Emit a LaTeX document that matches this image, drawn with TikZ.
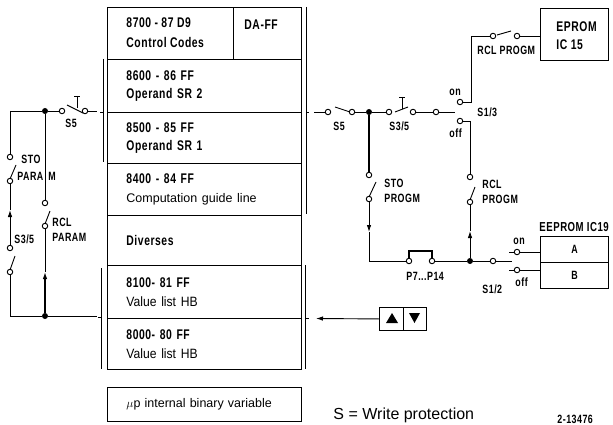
\documentclass[tikz,border=0pt]{standalone}
\usepackage{fontspec}
\setmainfont{Liberation Sans}
\newfontfamily\dinfont[FakeStretch=0.74,LetterSpace=4]{Liberation Sans Bold}
\newfontfamily\helnfont[FakeStretch=0.9]{Liberation Sans}
\usepackage{amsmath}
\usetikzlibrary{arrows.meta, positioning, calc}
\newcommand{\din}{\dinfont\fontsize{14}{18.5}\selectfont}
\newcommand{\dinl}{\dinfont\fontsize{12}{14}\selectfont}
\newcommand{\hel}{\rmfamily\fontsize{12.5}{18.5}\selectfont}
\newcommand{\heln}{\helnfont\fontsize{13.5}{18.5}\selectfont}

\begin{document}
\begin{tikzpicture}[x=1pt, y=-1pt, line width=0.9pt,
		cell/.style={draw, rectangle, anchor=north west, inner sep=0pt, minimum width=194pt, text width=156pt, align=left, font=\din},
		lbl/.style={anchor=west, inner sep=0pt, font=\dinl},
		tbl/.style={anchor=west, inner sep=0pt, font=\din},
		ctc/.style={circle, draw, fill=white, inner sep=0pt, minimum size=5.5pt},
		jdot/.style={circle, fill=black, inner sep=0pt, minimum size=6pt},
		blade/.style={line width=0.9pt},
		heavy/.style={line width=1.2pt},
		ahead/.style={-{Latex[length=7pt,width=4.5pt]}}]
	\useasboundingbox (0,0) rectangle (613,425);
	\node[draw, rectangle, anchor=north west, inner sep=0pt, minimum width=126pt, minimum height=52pt] (rctl) at (107,7) {};
	\node[draw, rectangle, anchor=north west, inner sep=0pt, minimum width=68pt, minimum height=52pt] (rda) at (233,7) {};
	\node[tbl] (tctla) at (126,23) {8700 - 87 D9};
	\node[tbl] (tctlb) at (126,42) {Control Codes};
	\node[tbl] (tda) at (244,25) {DA-FF};
	\node[cell, minimum height=53pt] (r86) at (107,59) {8600 - 86 FF\\Operand SR 2};
	\node[cell, minimum height=51pt] (r85) at (107,112) {8500 - 85 FF\\Operand SR 1};
	\node[cell, minimum height=52pt] (r84) at (107,163) {8400 - 84 FF\\{\hel Computation guide line}};
	\node[cell, minimum height=50pt] (rdiv) at (107,215) {Diverses};
	\node[cell, minimum height=53pt] (r81) at (107,265) {8100- 81 FF\\{\heln Value list HB}};
	\node[cell, minimum height=51pt] (r80) at (107,318) {8000- 80 FF\\{\heln Value list HB}};
	\node[cell, minimum height=34pt, font=\hel] (rmup) at (107,387) {$\mu$p internal binary variable};

	\draw (103,59) -- (103,162);
	\draw (103,112) -- (100,112);
	\draw (101,268) -- (101,369);
	\draw (101,317) -- (98,317);
	\draw (306,7) -- (306,214);
	\draw (306,112) -- (309,112);
	\draw (305,265) -- (305,369);
	\draw (305,318) -- (309,318);

	\node[jdot] (jla) at (45,111) {};
	\node[jdot] (jlb) at (45,316) {};
	\node[ctc] (s5la) at (62,111) {};
	\node[ctc] (s5lb) at (85,111) {};
	\node[ctc] (stoa) at (10,157) {};
	\node[ctc] (stob) at (10,181) {};
	\node[ctc] (s35a) at (10,248) {};
	\node[ctc] (s35b) at (10,272) {};
	\node[ctc] (rcla) at (45,203) {};
	\node[ctc] (rclb) at (45,226) {};
	\coordinate (cla) at (10,111);
	\coordinate (clb) at (10,316);
	\coordinate (fla) at (97,111);
	\coordinate (flb) at (97,316);
	\coordinate (ala) at (10,210);
	\coordinate (alb) at (45,272);
	\draw (cla) -- (jla) -- (s5la);
	\draw (s5lb) -- (fla);
	\draw (cla) -- (stoa);
	\draw (stob) -- (ala);
	\draw[ahead] (s35a) -- (ala);
	\draw (s35b) -- (clb) -- (jlb);
	\draw (jlb) -- (flb);
	\draw (jla) -- (rcla);
	\draw (rclb) -- (alb);
	\draw[heavy, ahead] (jlb) -- (alb);
	\draw[blade] (67,105) -- (83,113);
	\draw (77,96) -- (77,108);
	\draw (74,96) -- (80,96);
	\draw[blade] (10,179) -- (16,165);
	\draw[blade] (10,270) -- (15,256);
	\draw[blade] (45,224) -- (50,211);
	\node[lbl] (tstol) at (21,159) {STO};
	\node[lbl] (tparl) at (17,176) {PARA};
	\node[lbl] (tml) at (48,176) {M};
	\node[lbl] (trcll) at (52,222) {RCL};
	\node[lbl] (tparr) at (52,237) {PARAM};
	\node[lbl] (ts35l) at (14,239) {S3/5};
	\node[lbl] (ts5l) at (65,123) {S5};

	\node[ctc] (s5ra) at (328,112) {};
	\node[ctc] (s5rb) at (352,112) {};
	\node[jdot] (jra) at (369,112) {};
	\node[ctc] (s35ra) at (389,112) {};
	\node[ctc] (s35rb) at (413,112) {};
	\node[ctc] (s13c) at (436,112) {};
	\node[ctc] (s13on) at (460,102) {};
	\node[ctc] (s13off) at (460,121) {};
	\node[ctc] (rpa) at (493,36) {};
	\node[ctc] (rpb) at (517,36) {};
	\node[draw, rectangle, anchor=north west, inner sep=0pt, minimum width=68pt, minimum height=52pt] (eprom) at (540,8) {};
	\node[ctc] (stpa) at (369,175) {};
	\node[ctc] (stpb) at (369,199) {};
	\node[ctc] (rcpa) at (470,177) {};
	\node[ctc] (rcpb) at (470,202) {};
	\node[ctc] (p7) at (409,261) {};
	\node[ctc] (p14) at (432,261) {};
	\node[jdot] (jrb) at (470,261) {};
	\node[ctc] (s12c) at (493,261) {};
	\node[ctc] (s12on) at (517,252) {};
	\node[ctc] (s12off) at (517,270) {};
	\node[draw, rectangle, anchor=north west, inner sep=0pt, minimum width=68pt, minimum height=26pt, font=\dinl] (eea) at (540,236) {A};
	\node[draw, rectangle, anchor=north west, inner sep=0pt, minimum width=68pt, minimum height=26pt, font=\dinl] (eeb) at (540,262) {B};
	\node[draw, rectangle, anchor=north west, inner sep=0pt, minimum width=24pt, minimum height=23pt] (kup) at (379,307) {};
	\node[draw, rectangle, anchor=north west, inner sep=0pt, minimum width=23pt, minimum height=23pt] (kdn) at (403,307) {};

	\coordinate (fra) at (314,112);
	\coordinate (frb) at (455,112);
	\coordinate (fon) at (457,102);
	\coordinate (foff) at (457,121);
	\coordinate (con) at (471,102);
	\coordinate (cup) at (471,36);
	\coordinate (coff) at (470,121);
	\coordinate (cst) at (369,261);
	\coordinate (ast) at (369,232);
	\coordinate (arc) at (470,231);
	\coordinate (bra) at (409,251);
	\coordinate (brb) at (432,251);
	\coordinate (frc) at (512,261);
	\coordinate (fsa) at (509,252);
	\coordinate (fsb) at (509,270);
	\coordinate (akey) at (316,318.5);
	\draw (fra) -- (s5ra);
	\draw (s5rb) -- (jra) -- (s35ra);
	\draw (s35rb) -- (s13c) -- (frb);
	\draw (fon) -- (s13on) -- (con) -- (cup) -- (rpa);
	\draw (rpb) -- (eprom.west |- rpb);
	\draw (foff) -- (s13off) -- (coff) -- (rcpa);
	\draw[heavy] (jra) -- (stpa);
	\draw[ahead] (stpb) -- (ast);
	\draw (ast) -- (cst) -- (p7);
	\draw[heavy] (p7) -- (bra) -- (brb) -- (p14);
	\draw (p14) -- (jrb) -- (s12c) -- (frc);
	\draw[ahead] (jrb) -- (arc);
	\draw (rcpb) -- (arc);
	\draw (fsa) -- (s12on) -- (eea.west |- s12on);
	\draw (fsb) -- (s12off) -- (eeb.west |- s12off);
	\draw[ahead] (kup.west) -- (akey);
	\draw[blade] (335,107) -- (350,112);
	\draw[blade] (395,112) -- (408,107);
	\draw (402,97) -- (402,109);
	\draw (399,97) -- (405,97);
	\draw[blade] (497,35) -- (511,31);
	\draw[blade] (369,197) -- (376,182);
	\draw[blade] (470,200) -- (475,187);
	\fill (386,323) -- (398,323) -- (392,313) -- cycle;
	\fill (409,313) -- (420,313) -- (414.5,323) -- cycle;

	\node[lbl] (ts5r) at (333,126) {S5};
	\node[lbl] (ts35r) at (389,126) {S3/5};
	\node[lbl] (ton) at (449,92) {on};
	\node[lbl] (toff) at (449,133) {off};
	\node[lbl] (ts13) at (477,112) {S1/3};
	\node[lbl] (trp) at (477,50) {RCL PROGM};
	\node[lbl, font=\din] (tepa) at (556,27) {EPROM};
	\node[lbl, font=\din] (tepb) at (556,45) {IC 15};
	\node[lbl] (tstp) at (384,183) {STO};
	\node[lbl] (tprp) at (384,198) {PROGM};
	\node[lbl] (trcp) at (482,184) {RCL};
	\node[lbl] (tprr) at (482,199) {PROGM};
	\node[lbl, font=\dinfont\fontsize{13}{15}\selectfont] (tee) at (539,227) {EEPROM IC19};
	\node[lbl] (tpp) at (406,276) {P7...P14};
	\node[lbl] (tona) at (513,241) {on};
	\node[lbl] (toffa) at (515,282) {off};
	\node[lbl] (ts12) at (482,289) {S1/2};
	\node[anchor=west, inner sep=0pt, font=\fontsize{16}{18}\selectfont] (twp) at (333,415) {S = Write protection};
	\node[anchor=west, inner sep=0pt, font=\dinfont\fontsize{12}{14}\selectfont] (tnum) at (557,419) {2-13476};
\end{tikzpicture}
\end{document}
